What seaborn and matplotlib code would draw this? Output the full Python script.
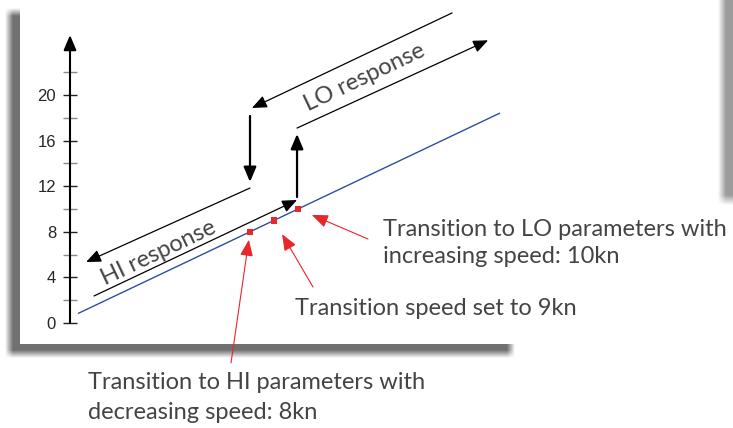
import numpy as np
import matplotlib
matplotlib.use('Agg')
import matplotlib.pyplot as plt
import seaborn as sns
from matplotlib.patches import Rectangle

# ---- data (speed in kn on x, response on y) ----
blue_x = [0.85, 18.4]
blue_y = [0.85, 18.4]
speeds = [8, 9, 10]
y_major = [0, 4, 8, 12, 16, 20]
y_minor = [2, 6, 10, 14, 18, 22]
# response paths: (start, tip)
hi_lower = [(1.5, 2.37), (9.96, 10.79)]
hi_upper = [(8.0, 11.84), (1.17, 5.35)]
lo_lower = [(9.96, 17.1), (17.92, 24.8)]
lo_upper = [(16.42, 27.2), (8.08, 18.86)]
step_down = [(8.0, 18.16), (8.0, 12.37)]
step_up = [(9.96, 11.05), (9.96, 16.58)]
axis_top = 25.26

notes = [
    (['Transition to HI parameters with', 'decreasing speed: 8kn'], (88, [389, 419]), (231, 363), 8, 5.8),
    (['Transition speed set to 9kn'], (295, [315]), (313, 287), 9, 11.5),
    (['Transition to LO parameters with', 'increasing speed: 10kn'], (383, [236, 263]), (368, 239), 10, 10.8),
]

sns.set_style('white')
plt.rcParams['font.family'] = ['Lato', 'DejaVu Sans']

W, H = 733, 428
fig = plt.figure(figsize=(W / 100, H / 100), dpi=100)

# background: panel with drop shadow
bg = fig.add_axes([0, 0, 1, 1], zorder=0)
bg.set_xlim(0, W)
bg.set_ylim(H, 0)
bg.axis('off')

def ramp(v, a, b, w):
    return np.clip((v - a) / w + 0.5, 0, 1) * np.clip((b - v) / w + 0.5, 0, 1)

xs = np.arange(W) + 0.5
ys = np.arange(H) + 0.5
alpha = np.outer(ramp(ys, 12, 354, 8), ramp(xs, 9, 511, 8)) * 0.72
alpha = np.maximum(alpha, np.outer(ramp(ys, -40, 200, 10), ramp(xs, 722, 800, 8)) * 0.5)
img = np.zeros((H, W, 4))
img[..., :3] = 0.22
img[..., 3] = alpha
bg.imshow(img, extent=(0, W, H, 0), aspect='auto', interpolation='bilinear', zorder=0)
bg.add_patch(Rectangle((20, 0), 500, 344, facecolor='white', edgecolor='none', zorder=1))

# main axes, mapped so 1 kn = 24 px and 1 unit = 11.4 px
ax = fig.add_axes([0, 0, 1, 1], zorder=1)
ax.patch.set_visible(False)
ax.set_xlim(-58 / 24, (W - 58) / 24)
ax.set_ylim(-(H - 323) / 11.4, 323 / 11.4)

for s in ['top', 'right', 'bottom']:
    ax.spines[s].set_visible(False)
ax.spines['left'].set_position(('data', 0.5))
ax.spines['left'].set_bounds(0, axis_top - 0.8)
ax.spines['left'].set_linewidth(1.5)
ax.spines['left'].set_color('black')
ax.set_xticks([])
ax.set_yticks(y_major)
ax.set_yticks(y_minor, minor=True)
ax.set_yticklabels([str(v) for v in y_major], family=['Liberation Sans', 'DejaVu Sans'], fontsize=12)
ax.tick_params(axis='y', which='both', left=True)
ax.tick_params(axis='y', which='major', direction='inout', length=10, width=1.0, color='#222222', pad=5)
ax.tick_params(axis='y', which='minor', direction='inout', length=10, width=1.0, color='#8a8a8a')
ax.annotate('', xy=(0.5, axis_top), xytext=(0.5, axis_top - 1.2),
            arrowprops=dict(arrowstyle='-|>,head_length=0.9,head_width=0.38', mutation_scale=10,
                            lw=1.5, color='black', shrinkA=0, shrinkB=0))

sns.lineplot(x=blue_x, y=blue_y, color='#2e4da3', lw=1.0, ax=ax, zorder=3)
sns.scatterplot(x=speeds, y=speeds, marker='s', s=22, color='#e8262b', edgecolor='none', ax=ax, zorder=5)

thin = dict(arrowstyle='-|>,head_length=0.9,head_width=0.38', mutation_scale=10,
            lw=0.9, color='black', shrinkA=0, shrinkB=0)
thick = dict(thin, lw=1.6)
for seg in [hi_lower, hi_upper, lo_lower, lo_upper]:
    ax.annotate('', xy=seg[1], xytext=seg[0], arrowprops=thin)
for seg in [step_down, step_up]:
    ax.annotate('', xy=seg[1], xytext=seg[0], arrowprops=thick)

tcol = '#444444'
bg.text(161, 259, 'HI response', rotation=25.4, rotation_mode='anchor', ha='center', va='baseline',
        fontsize=17, color=tcol, zorder=4)
bg.text(367, 83, 'LO response', rotation=25.4, rotation_mode='anchor', ha='center', va='baseline',
        fontsize=17, color=tcol, zorder=4)

for lines, (tx, tys), tail, sp, shrink in notes:
    for line, ty in zip(lines, tys):
        bg.text(tx, ty, line, ha='left', va='baseline', fontsize=17,
                color=tcol, zorder=4)
    ax.annotate('', xy=(sp, sp), xytext=(tail[0], H - tail[1]), textcoords='figure pixels',
                arrowprops=dict(arrowstyle='-|>,head_length=1.0,head_width=0.4', mutation_scale=10,
                                lw=0.8, color='#e8262b', shrinkA=0, shrinkB=shrink), zorder=6)

fig.savefig('out.png', dpi=100)
